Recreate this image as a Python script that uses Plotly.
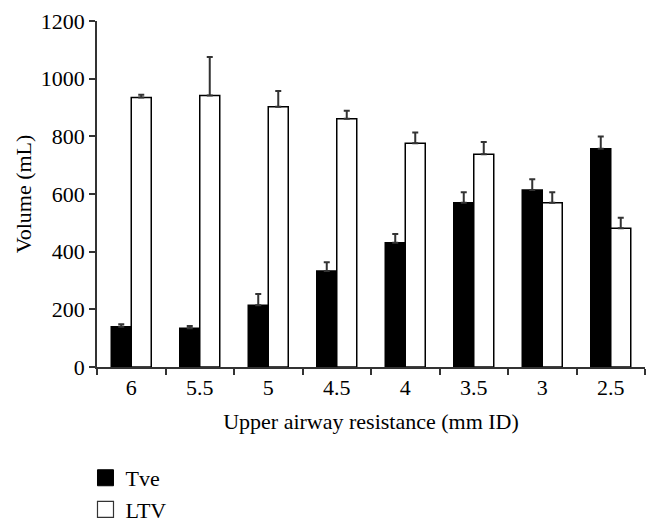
import plotly.graph_objects as go

categories = ["6", "5.5", "5", "4.5", "4", "3.5", "3", "2.5"]
tve = [140, 134, 214, 333, 431, 570, 614, 757]
tve_err = [8, 8, 39, 30, 30, 36, 37, 42]
ltv = [935, 942, 903, 861, 776, 738, 570, 481]
ltv_err = [9, 133, 54, 28, 37, 42, 36, 37]
zeros = [0] * len(categories)

FONT = "Liberation Serif"
AX = "#333333"
FS = 22

fig = go.Figure()
fig.add_trace(go.Bar(
    x=categories, y=tve, name="Tve", showlegend=False,
    marker=dict(color="black", line=dict(color="black", width=1.5)),
    error_y=dict(type="data", array=tve_err, arrayminus=zeros, symmetric=False,
                 color=AX, thickness=2, width=3),
))
fig.add_trace(go.Bar(
    x=categories, y=ltv, name="LTV", showlegend=False,
    marker=dict(color="white", line=dict(color="black", width=1.5)),
    error_y=dict(type="data", array=ltv_err, arrayminus=zeros, symmetric=False,
                 color=AX, thickness=2, width=3),
))
# legend entries
fig.add_trace(go.Scatter(x=[None], y=[None], mode="markers", name="Tve",
                         marker=dict(symbol="square", size=16, color="black",
                                     line=dict(color="black", width=1))))
fig.add_trace(go.Scatter(x=[None], y=[None], mode="markers", name="LTV",
                         marker=dict(symbol="square", size=16, color="white",
                                     line=dict(color="#333333", width=1.2))))

fig.update_layout(
    width=652, height=519,
    margin=dict(l=89, r=15, t=13, b=160, autoexpand=False),
    paper_bgcolor="white", plot_bgcolor="white",
    font=dict(family=FONT, size=FS, color="black"),
    barmode="group", bargap=0.416, bargroupgap=0,
    legend=dict(x=-0.021, y=-0.26, xanchor="left", yanchor="top",
                orientation="v", font=dict(size=FS), tracegroupgap=0,
                itemsizing="trace", bgcolor="rgba(0,0,0,0)"),
    xaxis=dict(
        title=dict(text="Upper airway resistance (mm ID)", standoff=14,
                   font=dict(size=FS)),
        automargin=False,
        showline=True, linecolor=AX, linewidth=1.5,
        ticks="outside", tickson="boundaries", ticklen=6, tickcolor=AX,
        tickwidth=1.5, showgrid=False, tickfont=dict(size=FS),
    ),
    yaxis=dict(
        title=dict(text="Volume (mL)", standoff=3, font=dict(size=FS)),
        automargin=False,
        range=[0, 1200], tickvals=[0, 200, 400, 600, 800, 1000, 1200],
        showline=True, linecolor=AX, linewidth=1.5,
        ticks="outside", ticklen=6, tickcolor=AX, tickwidth=1.5,
        ticklabelstandoff=0,
        showgrid=False, zeroline=False, tickfont=dict(size=FS),
    ),
)

fig.write_html("out.html")
